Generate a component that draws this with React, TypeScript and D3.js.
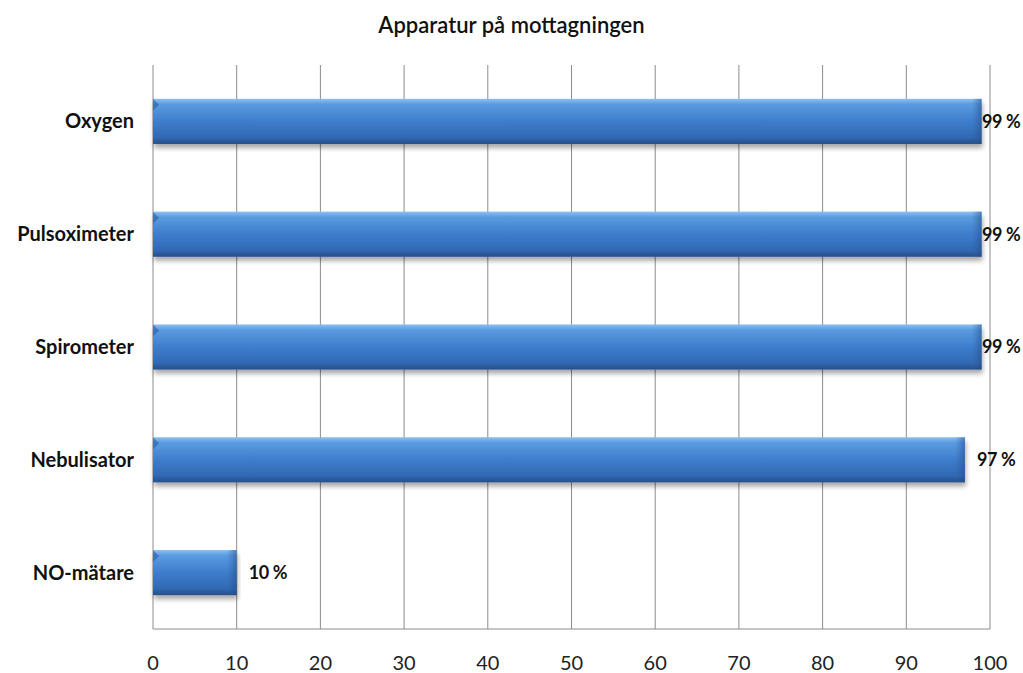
import { useMemo } from "react";
import { scaleLinear, scaleBand } from "d3";

const categories = ["Oxygen", "Pulsoximeter", "Spirometer", "Nebulisator", "NO-mätare"];
const values = [99, 99, 99, 97, 10];
const xTicks = [0, 10, 20, 30, 40, 50, 60, 70, 80, 90, 100];
const title = "Apparatur på mottagningen";

const width = 1023;
const height = 673;
const margin = { top: 65, right: 33, bottom: 44, left: 153 };
const font = "Lato, 'Open Sans', sans-serif";

export default function App() {
  const innerWidth = width - margin.left - margin.right;
  const innerHeight = height - margin.top - margin.bottom;

  const xScale = useMemo(
    () => scaleLinear().domain([0, 100]).range([0, innerWidth]),
    [innerWidth]
  );
  const yScale = useMemo(
    () => scaleBand<string>().domain(categories).range([0, innerHeight]).paddingInner(0.6).paddingOuter(0.3),
    [innerHeight]
  );
  const bh = yScale.bandwidth();
  // labels stay inside the chart area, like the spreadsheet does
  const labelMax = width - margin.left - 41;

  return (
    <svg
      width={width}
      height={height}
      style={{ position: "absolute", left: 0, top: 0, background: "#fff" }}
    >
      <defs>
        <linearGradient id="barFill" x1="0" y1="0" x2="0" y2="1">
          <stop offset="0" stopColor="#8cc0f2" />
          <stop offset="0.12" stopColor="#5a9be0" />
          <stop offset="0.5" stopColor="#3e7dcc" />
          <stop offset="0.85" stopColor="#3169b3" />
          <stop offset="1" stopColor="#264f88" />
        </linearGradient>
        <linearGradient id="barEnd" x1="0" y1="0" x2="1" y2="0">
          <stop offset="0" stopColor="#2d5e9f" stopOpacity="0" />
          <stop offset="1" stopColor="#234a80" stopOpacity="0.55" />
        </linearGradient>
        <filter id="shadow" x="-5%" y="-20%" width="110%" height="160%">
          <feGaussianBlur in="SourceAlpha" stdDeviation="2.5" />
          <feOffset dx="1" dy="4" result="b" />
          <feComponentTransfer>
            <feFuncA type="linear" slope="0.35" />
          </feComponentTransfer>
          <feMerge>
            <feMergeNode />
            <feMergeNode in="SourceGraphic" />
          </feMerge>
        </filter>
      </defs>

      <text
        x={width / 2}
        y={33}
        textAnchor="middle"
        fontFamily={font}
        fontWeight={600}
        fontSize={22}
        fill="#111"
      >
        {title}
      </text>

      <g transform={`translate(${margin.left},${margin.top})`}>
        {xTicks.map((t) => (
          <line
            key={t}
            x1={xScale(t)}
            x2={xScale(t)}
            y1={0}
            y2={innerHeight}
            stroke="#8c8c8c"
            strokeWidth={1}
          />
        ))}
        <line x1={0} x2={innerWidth} y1={innerHeight} y2={innerHeight} stroke="#8c8c8c" />

        {categories.map((c, i) => {
          const y = yScale(c) ?? 0;
          const w = xScale(values[i]);
          return (
            <g key={c}>
              <g filter="url(#shadow)">
                <rect x={0} y={y} width={w} height={bh} fill="url(#barFill)" />
              </g>
              <rect x={Math.max(0, w - 10)} y={y} width={Math.min(10, w)} height={bh} fill="url(#barEnd)" />
              <polygon
                points={`0,${y} 6,${y + 6} 0,${y + 12}`}
                fill="#2c5c9c"
                opacity={0.6}
              />
              <text
                x={-19}
                y={y + bh / 2}
                dy="0.35em"
                textAnchor="end"
                fontFamily={font}
                fontWeight={700}
                fontSize={20}
                fill="#111"
              >
                {c}
              </text>
              <text
                x={Math.min(w + 12, labelMax)}
                y={y + bh / 2}
                dy="0.35em"
                fontFamily={font}
                fontWeight={700}
                fontSize={18}
                letterSpacing={-0.4}
                fill="#111"
              >
                {values[i]} %
              </text>
            </g>
          );
        })}

        {xTicks.map((t) => (
          <text
            key={t}
            x={xScale(t)}
            y={innerHeight + 41}
            textAnchor="middle"
            fontFamily={font}
            fontSize={20}
            fill="#222"
          >
            {t}
          </text>
        ))}
      </g>
    </svg>
  );
}
